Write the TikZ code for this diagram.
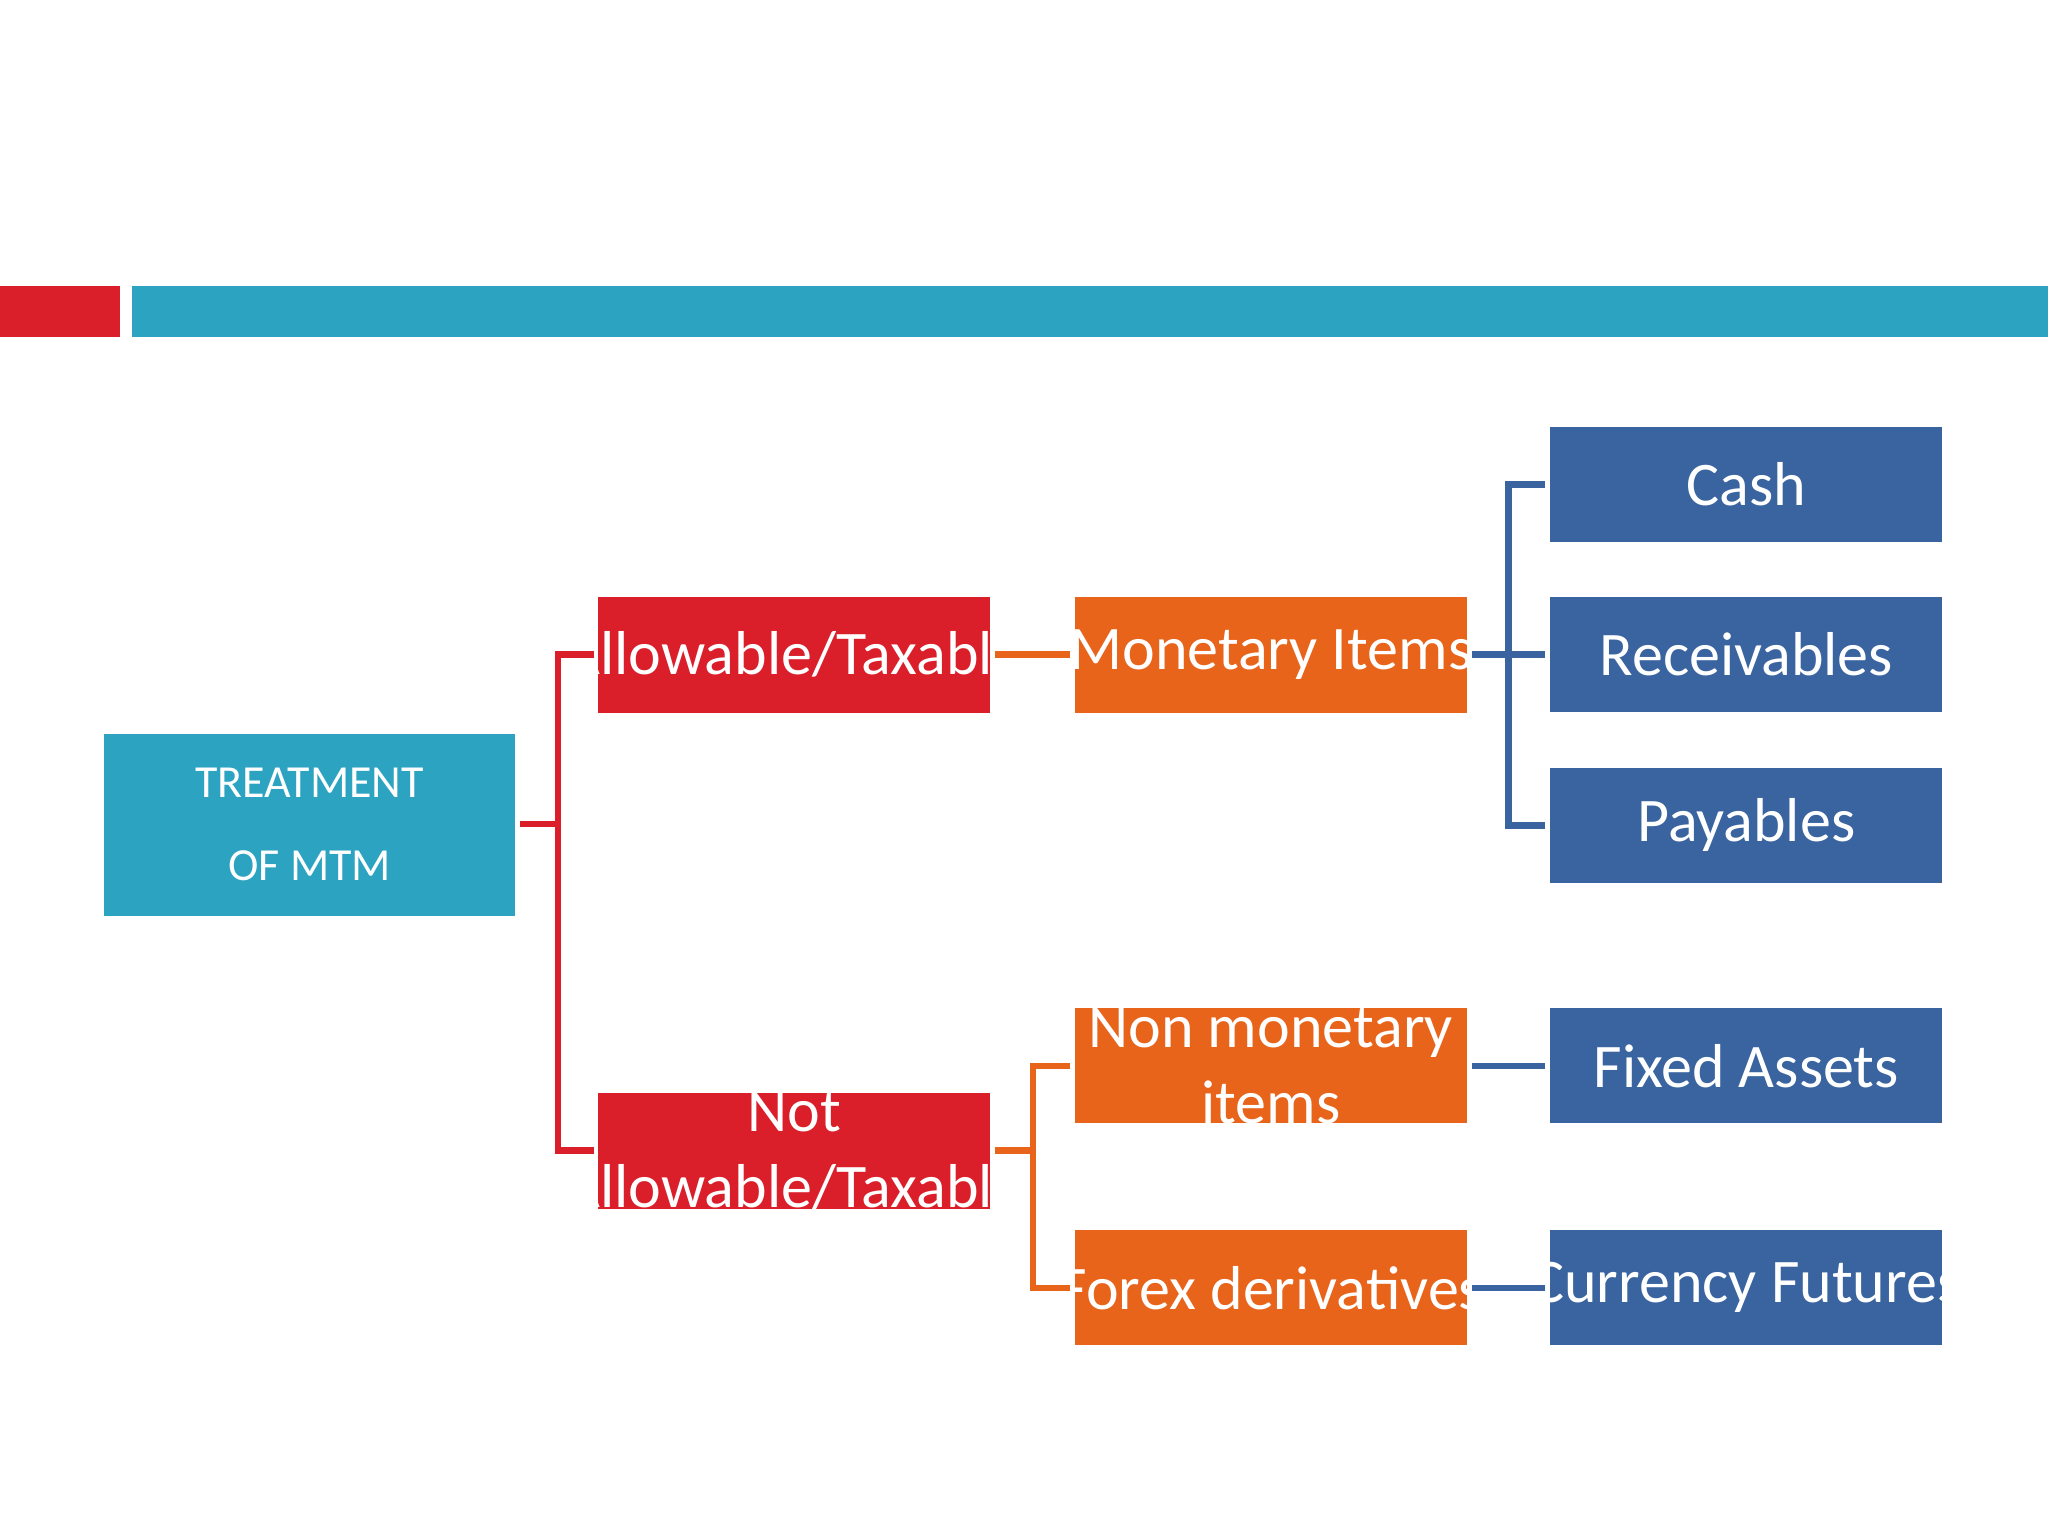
\documentclass[tikz,border=0pt]{standalone}
\usepackage{fontspec}
\setmainfont{Carlito}
\definecolor{cR}{RGB}{218,31,43}
\definecolor{cT}{RGB}{44,163,193}
\definecolor{cO}{RGB}{232,100,27}
\definecolor{cB}{RGB}{58,100,160}
\begin{document}
\begin{tikzpicture}[x=0.01cm,y=-0.01cm,
  lbl/.style={text=white,align=center,font=\fontsize{13.5}{16.5}\selectfont},
  ln/.style={line width=1.4pt}]
\useasboundingbox (0,0) rectangle (1568,1176);
\fill[cR] (0,219) rectangle (92,258);
\fill[cT] (101,219) rectangle (1568,258);
\fill[cT] (80,562) rectangle (394,701);
\node (t) [text=white,align=center,font=\fontsize{10}{18}\selectfont] at (237,631) {TREATMENT\\OF MTM};
\fill[cR] (458,457) rectangle (758,546);
\node (a) [lbl] at (608,501) {Allowable/Taxable};
\fill[cR] (458,837) rectangle (758,926);
\node (n) [lbl] at (608,881) {Not\\Allowable/Taxable};
\fill[cO] (823,457) rectangle (1123,546);
\node (m) [lbl] at (973,501) {Monetary Items};
\fill[cO] (823,772) rectangle (1123,860);
\node (nm) [lbl] at (973,816) {Non monetary\\items};
\fill[cO] (823,942) rectangle (1123,1030);
\node (f) [lbl] at (973,986) {Forex derivatives};
\foreach \nm/\y/\tx in {c/371/Cash,r/501/Receivables,p/632/Payables,fa/816/Fixed Assets,cf/986/Currency Futures}{
  \fill[cB] (1187,\y-44) rectangle (1487,\y+44);
  \node (\nm) [lbl] at (1337,\y) {\tx};
}
\coordinate (tR) at (398,631);
\coordinate (aL) at (455,501); \coordinate (nL) at (455,881);
\draw[ln,cR] (tR) -- (427,631) (aL) -- (427,501) |- (nL);
\coordinate (aR) at (762,501); \coordinate (mL) at (819,501);
\coordinate (nR) at (762,881); \coordinate (nmL) at (819,816); \coordinate (fL) at (819,986);
\draw[ln,cO] (aR) -- (mL) (nR) -- (791,881) (nmL) -- (791,816) |- (fL);
\coordinate (mR) at (1127,501); \coordinate (cL) at (1183,371); \coordinate (rL) at (1183,501);
\coordinate (pL) at (1183,632); \coordinate (nmR) at (1127,816); \coordinate (faL) at (1183,816);
\coordinate (fR) at (1127,986); \coordinate (cfL) at (1183,986);
\draw[ln,cB] (mR) -- (rL) (cL) -- (1155,371) |- (pL) (nmR) -- (faL) (fR) -- (cfL);
\end{tikzpicture}
\end{document}
